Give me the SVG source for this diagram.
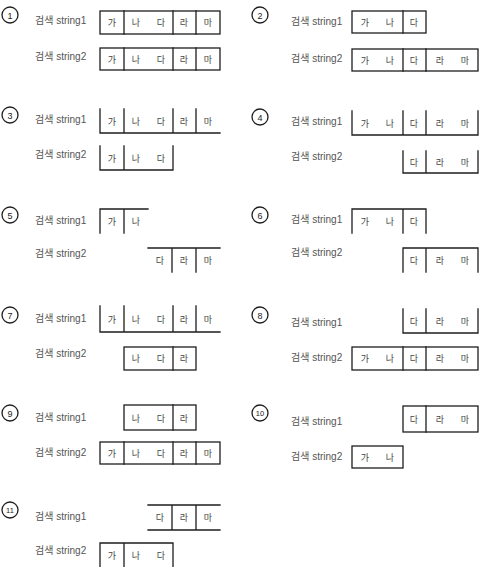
<svg xmlns="http://www.w3.org/2000/svg" width="484" height="567" viewBox="0 0 484 567">
<style>
.bg{fill:#fff}
.ln{stroke:#1e1e1e;stroke-width:1.3;fill:none;stroke-linecap:square}
.cir{stroke:#1e1e1e;stroke-width:1.3;fill:#fff}
.num{font-family:"Liberation Sans",sans-serif;font-size:9px;fill:#222;text-anchor:middle}
.lab{font-family:"Liberation Sans","Noto Sans CJK KR",sans-serif;font-size:10px;fill:#555}
.ch{font-family:"Noto Sans CJK KR",sans-serif;font-size:9px;fill:#444;text-anchor:middle}
</style>
<rect class="bg" x="0" y="0" width="484" height="567"/>

<!-- Panel 1 -->
<g id="panel-1">
<circle class="cir" cx="10" cy="15" r="8"/><text class="num" x="10" y="18.5">1</text>
<text class="lab" x="35" y="24">검색 string1</text>
<rect class="ln" x="100" y="11" width="120" height="23"/>
<path class="ln" d="M124 11V34M173 11V34M196 11V34"/>
<text class="ch" x="112" y="25.5">가</text><text class="ch" x="136" y="25.5">나</text><text class="ch" x="161" y="25.5">다</text><text class="ch" x="184" y="25.5">라</text><text class="ch" x="208" y="25.5">마</text>
<text class="lab" x="35" y="60">검색 string2</text>
<rect class="ln" x="100" y="48" width="120" height="22"/>
<path class="ln" d="M124 48V70M173 48V70M196 48V70"/>
<text class="ch" x="112" y="62.5">가</text><text class="ch" x="136" y="62.5">나</text><text class="ch" x="161" y="62.5">다</text><text class="ch" x="184" y="62.5">라</text><text class="ch" x="208" y="62.5">마</text>
</g>

<!-- Panel 2 -->
<g id="panel-2">
<circle class="cir" cx="260" cy="15" r="8"/><text class="num" x="260" y="18.5">2</text>
<text class="lab" x="291" y="25">검색 string1</text>
<rect class="ln" x="352" y="11" width="74" height="22"/>
<path class="ln" d="M403 11V33"/>
<text class="ch" x="365" y="25.5">가</text><text class="ch" x="390" y="25.5">나</text><text class="ch" x="414" y="25.5">다</text>
<text class="lab" x="291" y="62">검색 string2</text>
<rect class="ln" x="352" y="49" width="126" height="22"/>
<path class="ln" d="M403 49V71M426 49V71"/>
<text class="ch" x="365" y="63.5">가</text><text class="ch" x="390" y="63.5">나</text><text class="ch" x="414" y="63.5">다</text><text class="ch" x="440" y="63.5">라</text><text class="ch" x="465" y="63.5">마</text>
</g>

<!-- Panel 3 -->
<g id="panel-3">
<circle class="cir" cx="10" cy="115" r="8"/><text class="num" x="10" y="118.5">3</text>
<text class="lab" x="35" y="123">검색 string1</text>
<path class="ln" d="M100 109V133M124 109V133M173 109V133M196 109V133M100 133H220"/>
<text class="ch" x="112" y="124.5">가</text><text class="ch" x="136" y="124.5">나</text><text class="ch" x="161" y="124.5">다</text><text class="ch" x="184" y="124.5">라</text><text class="ch" x="208" y="124.5">마</text>
<text class="lab" x="35" y="158">검색 string2</text>
<path class="ln" d="M100 146V170M124 146V170M173 146V170M100 170H173"/>
<text class="ch" x="112" y="161.5">가</text><text class="ch" x="136" y="161.5">나</text><text class="ch" x="161" y="161.5">다</text>
</g>

<!-- Panel 4 -->
<g id="panel-4">
<circle class="cir" cx="260" cy="117" r="8"/><text class="num" x="260" y="120.5">4</text>
<text class="lab" x="291" y="125">검색 string1</text>
<path class="ln" d="M352 111V135M403 111V135M426 111V135M478 111V135M352 135H478"/>
<text class="ch" x="365" y="126.5">가</text><text class="ch" x="390" y="126.5">나</text><text class="ch" x="414" y="126.5">다</text><text class="ch" x="440" y="126.5">라</text><text class="ch" x="465" y="126.5">마</text>
<text class="lab" x="291" y="160">검색 string2</text>
<path class="ln" d="M403 151V173M426 151V173M478 151V173M403 173H478"/>
<text class="ch" x="414" y="165.5">다</text><text class="ch" x="440" y="165.5">라</text><text class="ch" x="465" y="165.5">마</text>
</g>

<!-- Panel 5 -->
<g id="panel-5">
<circle class="cir" cx="10" cy="215" r="8"/><text class="num" x="10" y="218.5">5</text>
<text class="lab" x="35" y="224">검색 string1</text>
<path class="ln" d="M100 209H148M100 209V233M124 209V233"/>
<text class="ch" x="112" y="224.5">가</text><text class="ch" x="136" y="224.5">나</text>
<text class="lab" x="35" y="257">검색 string2</text>
<path class="ln" d="M148 248H220M172 248V272M196 248V272"/>
<text class="ch" x="160" y="263.5">다</text><text class="ch" x="184" y="263.5">라</text><text class="ch" x="208" y="263.5">마</text>
</g>

<!-- Panel 6 -->
<g id="panel-6">
<circle class="cir" cx="260" cy="215" r="8"/><text class="num" x="260" y="218.5">6</text>
<text class="lab" x="291" y="223">검색 string1</text>
<path class="ln" d="M352 209H426M352 209V233M403 209V233M426 209V233"/>
<text class="ch" x="365" y="224.5">가</text><text class="ch" x="390" y="224.5">나</text><text class="ch" x="414" y="224.5">다</text>
<text class="lab" x="291" y="256">검색 string2</text>
<path class="ln" d="M403 248H478M403 248V272M426 248V272M478 248V272"/>
<text class="ch" x="414" y="263.5">다</text><text class="ch" x="440" y="263.5">라</text><text class="ch" x="465" y="263.5">마</text>
</g>

<!-- Panel 7 -->
<g id="panel-7">
<circle class="cir" cx="10" cy="315" r="8"/><text class="num" x="10" y="318.5">7</text>
<text class="lab" x="35" y="322">검색 string1</text>
<path class="ln" d="M100 306V332M124 306V332M173 306V332M196 306V332M100 332H220"/>
<text class="ch" x="112" y="322.5">가</text><text class="ch" x="136" y="322.5">나</text><text class="ch" x="161" y="322.5">다</text><text class="ch" x="184" y="322.5">라</text><text class="ch" x="208" y="322.5">마</text>
<text class="lab" x="35" y="357">검색 string2</text>
<rect class="ln" x="124" y="347" width="72" height="23"/>
<path class="ln" d="M173 347V370"/>
<text class="ch" x="136" y="361.5">나</text><text class="ch" x="161" y="361.5">다</text><text class="ch" x="184" y="361.5">라</text>
</g>

<!-- Panel 8 -->
<g id="panel-8">
<circle class="cir" cx="260" cy="315" r="8"/><text class="num" x="260" y="318.5">8</text>
<text class="lab" x="291" y="326">검색 string1</text>
<path class="ln" d="M403 309V333M426 309V333M478 309V333M403 333H478"/>
<text class="ch" x="414" y="324.5">다</text><text class="ch" x="440" y="324.5">라</text><text class="ch" x="465" y="324.5">마</text>
<text class="lab" x="291" y="361">검색 string2</text>
<rect class="ln" x="352" y="347" width="126" height="23"/>
<path class="ln" d="M403 347V370M426 347V370"/>
<text class="ch" x="365" y="361.5">가</text><text class="ch" x="390" y="361.5">나</text><text class="ch" x="414" y="361.5">다</text><text class="ch" x="440" y="361.5">라</text><text class="ch" x="465" y="361.5">마</text>
</g>

<!-- Panel 9 -->
<g id="panel-9">
<circle class="cir" cx="10" cy="413" r="8"/><text class="num" x="10" y="416.5">9</text>
<text class="lab" x="35" y="421">검색 string1</text>
<rect class="ln" x="124" y="405" width="72" height="25"/>
<path class="ln" d="M173 405V430"/>
<text class="ch" x="136" y="421.5">나</text><text class="ch" x="161" y="421.5">다</text><text class="ch" x="184" y="421.5">라</text>
<text class="lab" x="35" y="456">검색 string2</text>
<rect class="ln" x="100" y="442" width="120" height="22"/>
<path class="ln" d="M124 442V464M173 442V464M196 442V464"/>
<text class="ch" x="112" y="456.5">가</text><text class="ch" x="136" y="456.5">나</text><text class="ch" x="161" y="456.5">다</text><text class="ch" x="184" y="456.5">라</text><text class="ch" x="208" y="456.5">마</text>
</g>

<!-- Panel 10 -->
<g id="panel-10">
<circle class="cir" cx="260" cy="413" r="8"/><text class="num" x="260" y="416" style="font-size:7.5px">10</text>
<text class="lab" x="291" y="425">검색 string1</text>
<rect class="ln" x="403" y="406" width="75" height="26"/>
<path class="ln" d="M426 406V432"/>
<text class="ch" x="414" y="422.5">다</text><text class="ch" x="440" y="422.5">라</text><text class="ch" x="465" y="422.5">마</text>
<text class="lab" x="291" y="460">검색 string2</text>
<rect class="ln" x="352" y="446" width="51" height="22"/>
<text class="ch" x="365" y="460.5">가</text><text class="ch" x="390" y="460.5">나</text>
</g>

<!-- Panel 11 -->
<g id="panel-11">
<circle class="cir" cx="10" cy="510" r="8"/><text class="num" x="10" y="513" style="font-size:7.5px">11</text>
<text class="lab" x="35" y="520">검색 string1</text>
<path class="ln" d="M148 505H220M148 530H220M172 505V530M196 505V530"/>
<text class="ch" x="160" y="521">다</text><text class="ch" x="184" y="521">라</text><text class="ch" x="208" y="521">마</text>
<text class="lab" x="35" y="554">검색 string2</text>
<path class="ln" d="M100 543H173M100 543V567M124 543V567M173 543V567"/>
<text class="ch" x="112" y="558.5">가</text><text class="ch" x="136" y="558.5">나</text><text class="ch" x="161" y="558.5">다</text>
</g>
</svg>
